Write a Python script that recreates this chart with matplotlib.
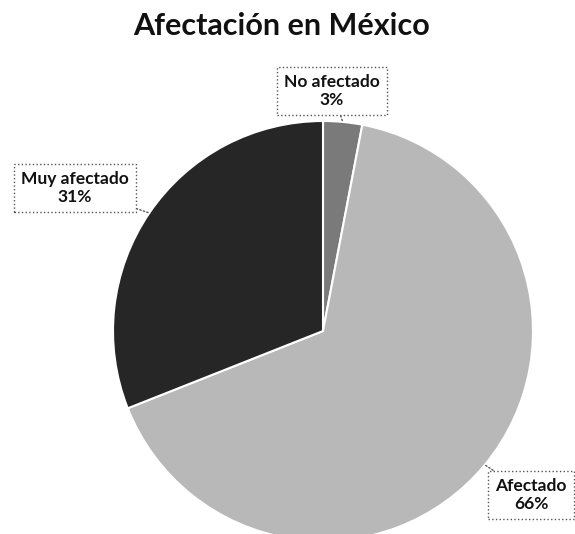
import numpy as np
import matplotlib
matplotlib.use("Agg")
import matplotlib.pyplot as plt

title = "Afectación en México"
categories = ["No afectado", "Afectado", "Muy afectado"]
values = [3, 66, 31]
colors = ["#7a7a7a", "#b8b8b8", "#262626"]

W, H = 575, 534
fig = plt.figure(figsize=(W / 100, H / 100), dpi=100)
fig.patch.set_facecolor("white")

cx, cy, r = 323, 331, 210  # pixel layout of pie
ax = fig.add_axes([(cx - r) / W, (H - cy - r) / H, 2 * r / W, 2 * r / H])
ax.axis("off")

wedges, _ = ax.pie(values, colors=colors, startangle=90, counterclock=False,
                   radius=1, wedgeprops=dict(edgecolor="white", linewidth=1.5))
ax.set_xlim(-1, 1)
ax.set_ylim(-1, 1)
ax.set_aspect("equal")
for wd in wedges:
    wd.set_clip_on(False)

font = ["Lato", "DejaVu Sans"]
fig.text(282 / W, 1 - 26 / H, title, ha="center", va="center",
         fontsize=22, fontweight="bold", family=font, color="#111111")

label_pos = {"No afectado": (332, 91), "Afectado": (531, 495), "Muy afectado": (75, 188)}
total = sum(values)
for wd, cat, val in zip(wedges, categories, values):
    ang = np.deg2rad((wd.theta1 + wd.theta2) / 2)
    px, py = label_pos[cat]
    ax.annotate(f"{cat}\n{round(100 * val / total)}%",
                xy=(np.cos(ang), np.sin(ang)), xycoords="data",
                xytext=(px / W, 1 - py / H), textcoords="figure fraction",
                ha="center", va="center", fontsize=12.5, fontweight="bold",
                family=font, color="#111111", linespacing=1.2,
                bbox=dict(boxstyle="square,pad=0.4", facecolor="white",
                          edgecolor="#555555", linestyle=":", linewidth=1),
                arrowprops=dict(arrowstyle="-", color="#555555", linestyle=":",
                                linewidth=1, shrinkA=0, shrinkB=0),
                annotation_clip=False)

fig.savefig("out.png", dpi=100, facecolor="white")
